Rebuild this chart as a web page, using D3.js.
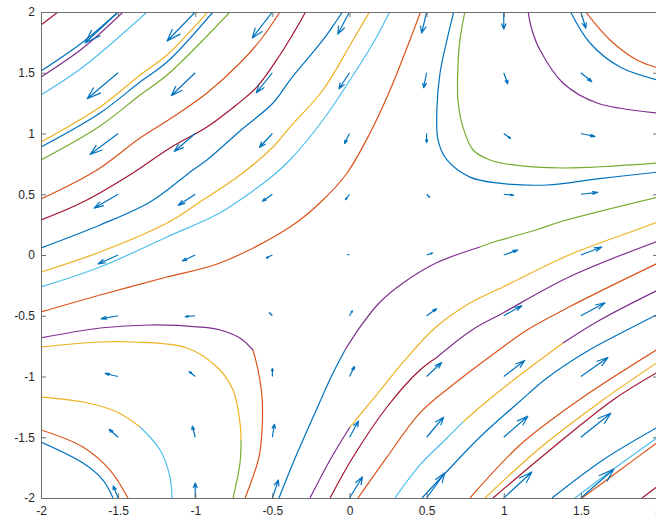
<!DOCTYPE html>
<html><head><meta charset="utf-8">
<script src="https://cdn.jsdelivr.net/npm/d3@7"></script>
<style>body{margin:0;background:#fff}svg{display:block}</style>
</head><body><svg id="chart" width="656" height="519"></svg>
<script>
// ---- tick values ----
const xTicks = [-2, -1.5, -1, -0.5, 0, 0.5, 1, 1.5, 2];
const yTicks = [-2, -1.5, -1, -0.5, 0, 0.5, 1, 1.5, 2];

// ---- quiver grid (rows = quiverY, columns = quiverX) ----
const quiverX = [-1.5, -1, -0.5, 0, 0.5, 1, 1.5];
const quiverY = [2, 1.5, 1, 0.5, 0, -0.5, -1, -1.5, -2];
const quiverU = [
  [-0.214, -0.182, -0.130, -0.076, -0.032, 0.000, 0.032],
  [-0.201, -0.156, -0.104, -0.068, -0.019, 0.026, 0.071],
  [-0.182, -0.136, -0.084, -0.032, 0.000, 0.045, 0.091],
  [-0.156, -0.110, -0.065, -0.026, 0.019, 0.065, 0.110],
  [-0.130, -0.084, -0.039, -0.013, 0.039, 0.091, 0.136],
  [-0.110, -0.065, -0.019, 0.019, 0.065, 0.117, 0.156],
  [-0.084, -0.039, 0.000, 0.032, 0.097, 0.136, 0.175],
  [-0.058, -0.019, 0.013, 0.058, 0.110, 0.156, 0.194],
  [-0.032, 0.000, 0.039, 0.084, 0.117, 0.182, 0.214]
];
const quiverV = [
  [-0.255, -0.239, -0.214, -0.181, -0.173, -0.140, -0.132],
  [-0.214, -0.189, -0.165, -0.132, -0.123, -0.091, -0.074],
  [-0.173, -0.148, -0.115, -0.082, -0.074, -0.041, -0.025],
  [-0.115, -0.091, -0.058, -0.045, -0.025, -0.008, 0.016],
  [-0.074, -0.049, -0.025, 0.004, 0.016, 0.041, 0.066],
  [-0.025, -0.008, 0.025, 0.041, 0.058, 0.082, 0.107],
  [0.025, 0.041, 0.066, 0.082, 0.115, 0.132, 0.156],
  [0.066, 0.091, 0.107, 0.132, 0.165, 0.173, 0.198],
  [0.099, 0.123, 0.148, 0.173, 0.206, 0.214, 0.239]
];

// ---- trajectory segments, grouped by drawn colour ----
const blueCurves = [
  [[-2,1.514],[-1.728,1.753],[-1.501,2.0]],
  [[-2,0.889],[-1.617,1.169],[-1.358,1.424],[-1.183,1.588],[-0.885,2.0]],
  [[-2,0.058],[-1.617,0.247],[-1.293,0.436],[-1.015,0.700],[-0.924,0.782],[-0.710,1.021],[-0.496,1.251],[-0.386,1.440],[-0.172,1.770],[-0.081,1.934],[-0.042,2.008]],
  [[0.677,2.008],[0.632,1.770],[0.587,1.498],[0.567,1.214],[0.574,0.946],[0.632,0.782],[0.781,0.641],[0.956,0.593],[1.280,0.576],[1.605,0.626],[2.0,0.683]],
  [[1.430,2.008],[1.559,1.745],[1.754,1.547],[2.0,1.440]],
  [[-0.457,-2.0],[-0.366,-1.712],[-0.224,-1.300],[-0.113,-0.988],[-0.029,-0.782]],
  [[0.470,-2.0],[0.652,-1.753],[0.846,-1.498],[1.099,-1.210],[1.280,-1.012],[1.533,-0.798],[1.773,-0.634],[2.0,-0.486]],
  [[1.313,-2.0],[1.643,-1.687],[2.0,-1.416]],
  [[-2,-1.539],[-1.728,-1.712],[-1.598,-1.852],[-1.533,-2.0]]
];
const orangeCurves = [
  [[-2,0.461],[-1.637,0.700],[-1.358,0.963],[-1.144,1.136],[-0.924,1.333],[-0.710,1.580],[-0.567,1.786],[-0.451,2.0]],
  [[-2,-0.469],[-1.617,-0.329],[-1.183,-0.181],[-0.840,-0.066],[-0.386,0.230],[-0.172,0.453],[-0.016,0.675],[0.133,1.004],[0.263,1.358],[0.392,1.770],[0.463,2.008]],
  [[1.527,2.008],[1.689,1.770],[1.864,1.605],[2.0,1.539]],
  [[0.055,-2.0],[0.243,-1.663],[0.457,-1.300],[0.652,-1.086],[0.995,-0.757],[1.151,-0.617],[1.423,-0.428],[2.0,-0.066]],
  [[0.781,-2.0],[1.105,-1.564],[1.488,-1.193],[2.0,-0.774]],
  [[1.507,-2.0],[1.754,-1.770],[2.0,-1.539]],
  [[-0.626,-0.782],[-0.593,-0.947],[-0.567,-1.169],[-0.567,-1.440],[-0.587,-1.663],[-0.677,-2.0]],
  [[-2,-1.440],[-1.728,-1.580],[-1.553,-1.770],[-1.436,-2.0]]
];
const yellowCurves = [
  [[-2,0.930],[-1.617,1.218],[-1.358,1.481],[-1.183,1.646],[-0.924,1.992]],
  [[-2,-0.140],[-1.617,0.025],[-1.183,0.263],[-0.989,0.420],[-0.710,0.658],[-0.496,0.889],[-0.386,1.053],[-0.172,1.358],[0.023,1.770],[0.133,2.008]],
  [[0.003,-1.416],[0.185,-1.136],[0.360,-0.864],[0.561,-0.593],[0.781,-0.395],[0.995,-0.263],[1.423,0.0],[1.857,0.206],[2.0,0.272]],
  [[0.736,-1.374],[0.885,-1.210],[1.105,-0.988],[1.384,-0.724]],
  [[0.878,-2.0],[1.235,-1.588],[1.643,-1.193],[2.0,-0.881]],
  [[-2,-0.757],[-1.617,-0.716],[-1.404,-0.716],[-1.054,-0.765],[-0.859,-0.922],[-0.755,-1.111],[-0.710,-1.383],[-0.703,-1.523]],
  [[-2,-1.169],[-1.728,-1.210],[-1.507,-1.292],[-1.358,-1.416]]
];
const purpleCurves = [
  [[-2,1.465],[-1.728,1.704],[-1.468,2.0]],
  [[1.157,2.008],[1.183,1.852],[1.235,1.687],[1.384,1.416],[1.605,1.251],[2.0,1.169]],
  [[-0.029,-0.782],[0.068,-0.593],[0.198,-0.387],[0.347,-0.230],[0.561,-0.066],[0.846,0.066]],
  [[-0.256,-2.0],[-0.126,-1.687],[0.003,-1.416]],
  [[0.561,-0.848],[0.794,-0.617],[0.995,-0.477],[1.423,-0.181],[2.0,0.115]],
  [[1.384,-0.724],[1.624,-0.535],[2.0,-0.288]],
  [[-2,-0.683],[-1.617,-0.601],[-1.293,-0.576],[-0.969,-0.593],[-0.840,-0.617],[-0.710,-0.683],[-0.626,-0.782]]
];
const greenCurves = [
  [[-2,0.782],[-1.617,1.062],[-1.358,1.317],[-1.183,1.481],[-0.775,2.0]],
  [[0.749,2.008],[0.716,1.770],[0.703,1.547],[0.703,1.276],[0.735,1.054],[0.801,0.864],[0.911,0.782],[1.060,0.741],[1.384,0.716],[2.0,0.757]],
  [[0.846,0.066],[0.956,0.115],[1.209,0.206],[1.384,0.280],[2.0,0.477]],
  [[-0.703,-1.523],[-0.710,-1.712],[-0.755,-2.0]]
];
const lightBlueCurves = [
  [[-2,1.317],[-1.728,1.547],[-1.313,2.0]],
  [[-2,-0.263],[-1.617,-0.099],[-1.183,0.148],[-0.840,0.346],[-0.710,0.453],[-0.515,0.634],[-0.386,0.782],[-0.172,1.111],[0.003,1.440],[0.165,1.770],[0.263,2.008]],
  [[0.295,-2.0],[0.457,-1.728],[0.619,-1.523],[0.736,-1.374]],
  [[1.462,-2.0],[1.721,-1.753],[2.0,-1.498]],
  [[-1.358,-1.416],[-1.228,-1.605],[-1.164,-1.827],[-1.151,-2.0]]
];
const darkRedCurves = [
  [[-2,1.893],[-1.890,2.0]],
  [[-2,0.288],[-1.728,0.436],[-1.404,0.675],[-1.164,0.881],[-0.924,1.053],[-0.742,1.226],[-0.600,1.383],[-0.451,1.646],[-0.321,1.918],[-0.282,2.008]],
  [[-0.126,-2.0],[0.023,-1.663],[0.243,-1.251],[0.457,-0.947],[0.561,-0.848]],
  [[0.930,-2.0],[1.300,-1.605],[1.708,-1.193],[2.0,-0.963]],
  [[1.896,-2.0],[2.0,-1.901]]
];

// ---- drawing ----
const svg = d3.select("#chart");
const x = d3.scaleLinear().domain([-2, 2]).range([41, 658]);
const y = d3.scaleLinear().domain([-2, 2]).range([498, 12]);

svg.append("defs").append("clipPath").attr("id", "plotClip")
  .append("rect").attr("x", 41).attr("y", 12).attr("width", 617).attr("height", 486);

const plot = svg.append("g").attr("clip-path", "url(#plotClip)");
const line = d3.line().x(d => x(d[0])).y(d => y(d[1])).curve(d3.curveCatmullRom.alpha(0.5));

const groups = [
  [blueCurves, "#0072BD"], [orangeCurves, "#D95319"], [yellowCurves, "#EDB120"],
  [purpleCurves, "#7E2F8E"], [greenCurves, "#77AC30"], [lightBlueCurves, "#4DBEEE"],
  [darkRedCurves, "#A2142F"]
];
groups.forEach(([set, col]) => {
  plot.append("g").selectAll("path").data(set).join("path")
    .attr("d", line).attr("fill", "none").attr("stroke", col)
    .attr("stroke-width", 1.2).attr("stroke-linejoin", "round");
});

// quiver arrows (MATLAB style heads)
const arrows = [];
quiverY.forEach((yy, i) => quiverX.forEach((xx, j) => {
  arrows.push({x0: xx, y0: yy, u: quiverU[i][j], v: quiverV[i][j]});
}));
const alpha = 0.33, beta = 0.33;
plot.append("g").selectAll("path").data(arrows).join("path")
  .attr("d", a => {
    const tx = a.x0 + a.u, ty = a.y0 + a.v;
    const h1x = tx - alpha * (a.u + beta * a.v), h1y = ty - alpha * (a.v - beta * a.u);
    const h2x = tx - alpha * (a.u - beta * a.v), h2y = ty - alpha * (a.v + beta * a.u);
    return `M${x(a.x0)},${y(a.y0)}L${x(tx)},${y(ty)}M${x(h1x)},${y(h1y)}L${x(tx)},${y(ty)}L${x(h2x)},${y(h2y)}`;
  })
  .attr("fill", "none").attr("stroke", "#0072BD").attr("stroke-width", 1.2)
  .attr("stroke-linejoin", "round");

// axes (box with inward ticks on all sides)
const fmt = d => String(d);
const axisColor = "#6e6e6e";
function style(g, showText) {
  g.select(".domain").attr("stroke", axisColor).attr("stroke-width", 1);
  g.selectAll(".tick line").attr("stroke", axisColor).attr("stroke-width", 1);
  g.selectAll(".tick text").attr("fill", "#262626")
    .style("font-family", "'Liberation Sans', Arial, Helvetica, sans-serif")
    .style("font-size", "12px");
  if (!showText) g.selectAll(".tick text").remove();
}
svg.append("g").attr("transform", "translate(0,498)")
  .call(d3.axisBottom(x).tickValues(xTicks).tickFormat(fmt).tickSize(-5).tickSizeOuter(0).tickPadding(8))
  .call(g => style(g, true));
svg.append("g").attr("transform", "translate(0,12)")
  .call(d3.axisTop(x).tickValues(xTicks).tickSize(-5).tickSizeOuter(0))
  .call(g => style(g, false));
svg.append("g").attr("transform", "translate(41,0)")
  .call(d3.axisLeft(y).tickValues(yTicks).tickFormat(fmt).tickSize(-5).tickSizeOuter(0).tickPadding(6))
  .call(g => style(g, true));
svg.append("g").attr("transform", "translate(658,0)")
  .call(d3.axisRight(y).tickValues(yTicks).tickSize(-5).tickSizeOuter(0))
  .call(g => style(g, false));
</script>
</body></html>
